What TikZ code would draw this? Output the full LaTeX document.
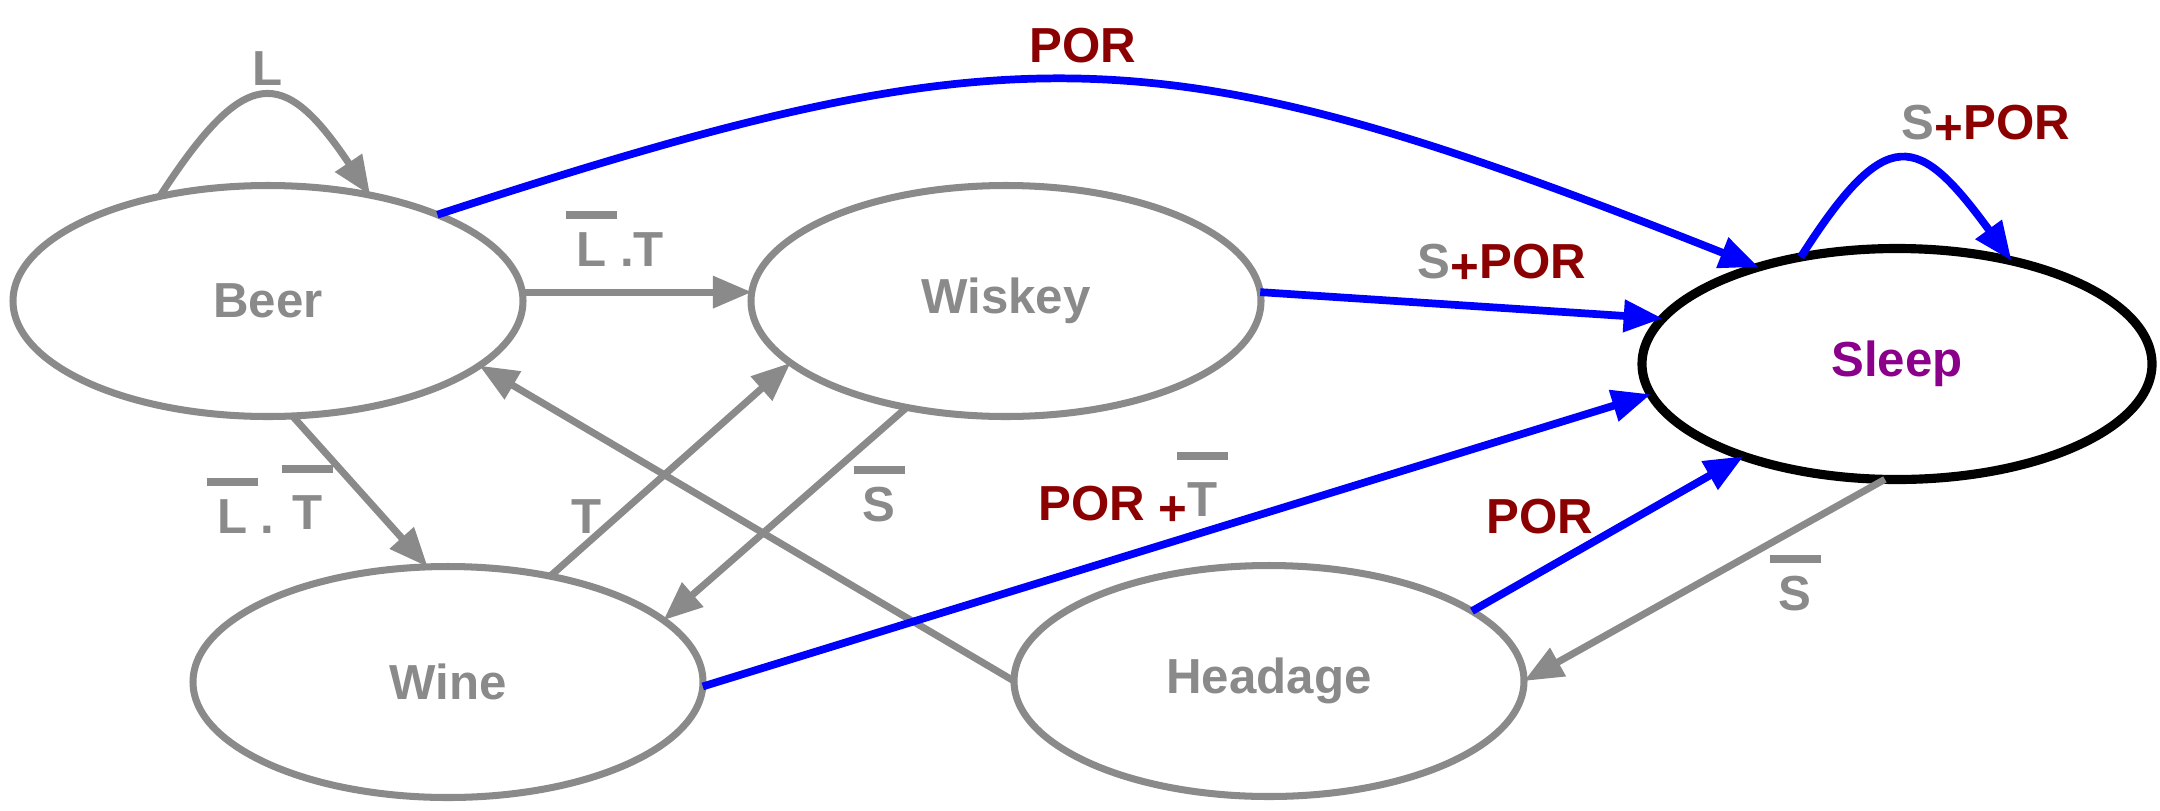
\documentclass[tikz,border=0pt]{standalone}
\usepackage{fontspec}
\setmainfont{Liberation Sans}
\usetikzlibrary{arrows.meta,shapes.geometric}
\definecolor{edgegray}{RGB}{138,138,138}
\definecolor{pordark}{RGB}{139,0,0}
\definecolor{sleeppurple}{RGB}{139,0,139}
% letter with a bar over it
\newcommand{\barred}[2][4.7mm]{\ooalign{#2\cr\hidewidth\rule[#1]{5.1mm}{0.8mm}\hidewidth\cr}}
\newcommand{\barredT}{\raisebox{0.4mm}{\barred[5.6mm]{T}}}
\newcommand{\lowplus}{\raisebox{-0.5mm}{+}}
\begin{document}
\begin{tikzpicture}[x=0.1mm,y=-0.1mm,
  state/.style={ellipse, draw=edgegray, line width=2pt, minimum width=51mm, minimum height=23.1mm,
    inner sep=0pt, outer sep=0pt, text=edgegray, font=\fontsize{14}{16}\selectfont\bfseries},
  finalstate/.style={state, draw=black, line width=2.6pt, text=sleeppurple},
  grayedge/.style={draw=edgegray, line width=2pt, -{Triangle[length=3.9mm,width=3.1mm]}},
  blueedge/.style={grayedge, draw=blue, line width=2.2pt},
  lbl/.style={anchor=base, inner sep=0pt, font=\fontsize{14}{16}\selectfont\bfseries},
  graylbl/.style={lbl, text=edgegray},
  redlbl/.style={lbl, text=pordark}]
\useasboundingbox (0,0) rectangle (2160,810);

% states
\node [state] (beer) at (268,301) {Beer};
\node [state] (wiskey) at (1006,301) {Wiskey};
\node [finalstate] (sleep) at (1897,364) {Sleep};
\node [state] (wine) at (448,682) {Wine};
\node [state] (headage) at (1269,681) {Headage};

% transitions
\draw [grayedge] (beer.136) .. controls (245,65) and (283,65) .. (beer.46);
\draw [blueedge] (beer.27) .. controls (1019,25) and (1158,29) .. (sleep.145);
\draw [grayedge] (beer.2) -- (wiskey.178);
\draw [grayedge] (beer.282) -- (wine.100);
\draw [grayedge] (wine.46) -- (wiskey.196);
\draw [grayedge] (wiskey.227) -- (wine.16);
\draw [grayedge] (headage.180) -- (beer.343);
\draw [blueedge] (wiskey.2) -- (sleep.169);
\draw [blueedge] (wine.359) -- (sleep.187);
\draw [blueedge] (headage.19) -- (sleep.211);
\draw [grayedge] (sleep.264) -- (headage.0);
\draw [blueedge] (sleep.132) .. controls (1887,122) and (1918,133) .. (sleep.42);

% labels
\node [graylbl] (labL) at (268,85) {L};
\node [redlbl] (labPOR) at (1083,62) {POR};
\node [graylbl] (labBW) at (620,266) {\barred{L} .T};
\node [graylbl] (labBWi) at (270,533) {\barred{L} . \barredT};
\node [graylbl] (labT) at (587,533) {T};
\node [graylbl] (labWW) at (879,521) {\barred{S}};
\node [redlbl] (labWS) at (1128,520) {POR \lowplus\textcolor{edgegray}{\barredT}};
\node [lbl] (labWkS) at (1502,278) {\textcolor{edgegray}{S}\textcolor{pordark}{\lowplus POR}};
\node [redlbl] (labHS) at (1540,533) {POR};
\node [graylbl] (labSH) at (1795,610) {\barred{S}};
\node [lbl] (labSS) at (1986,139) {\textcolor{edgegray}{S}\textcolor{pordark}{\lowplus POR}};
\end{tikzpicture}
\end{document}
